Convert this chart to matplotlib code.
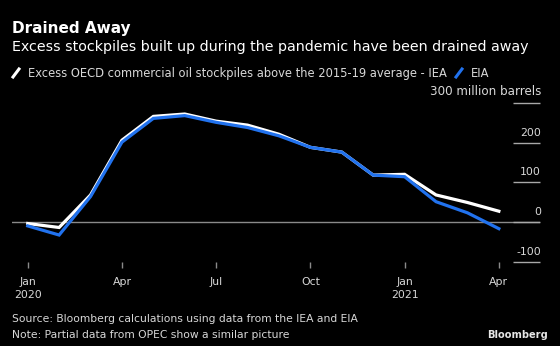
import matplotlib
matplotlib.use("Agg")
import matplotlib.pyplot as plt
from matplotlib.lines import Line2D
from matplotlib.transforms import blended_transform_factory, offset_copy

# excess OECD commercial oil stocks vs 2015-19 average, million barrels
months = ["Jan 2020", "Feb 2020", "Mar 2020", "Apr 2020", "May 2020", "Jun 2020",
          "Jul 2020", "Aug 2020", "Sep 2020", "Oct 2020", "Nov 2020", "Dec 2020",
          "Jan 2021", "Feb 2021", "Mar 2021", "Apr 2021"]
iea = [-4, -14, 68, 206, 266, 272, 254, 244, 221, 188, 176, 118, 120, 68, 49, 27]
eia = [-10, -33, 64, 201, 261, 268, 251, 238, 217, 188, 176, 118, 114, 51, 23, -17]

xtick_pos = [0, 3, 6, 9, 12, 15]
xtick_labels = ["Jan\n2020", "Apr", "Jul", "Oct", "Jan\n2021", "Apr"]
ytick_vals = [-100, 0, 100, 200, 300]
ytick_labels = ["-100", "0", "100", "200", "300 million barrels"]

BG = "#000000"
WHITE = "#ffffff"
BLUE = "#2172ee"
GREY = "#8a8a8a"
TXT = "#d8d8d8"

plt.rcParams["font.family"] = ["DejaVu Sans"]

fig = plt.figure(figsize=(5.6, 3.46), dpi=100, facecolor=BG)
ax = fig.add_axes([12 / 560, 84 / 346, 528 / 560, 0.4598])
ax.set_facecolor(BG)


def fy(py):
    # pixel row from the top -> figure fraction
    return 1 - py / 346


x = list(range(len(months)))
ax.axhline(0, color=GREY, lw=1.0, zorder=1)
ax.plot(x, iea, color=WHITE, lw=2.3, solid_joinstyle="miter", zorder=3)
ax.plot(x, eia, color=BLUE, lw=2.3, solid_joinstyle="miter", zorder=4)

ax.set_xlim(-0.5, 16.31)
ax.set_ylim(-101, 300)
for s in ax.spines.values():
    s.set_visible(False)

ax.set_xticks(xtick_pos)
ax.set_xticklabels(xtick_labels, color=TXT, fontsize=7.8, linespacing=1.45)
ax.tick_params(axis="x", length=4, width=1, color=GREY, pad=6.5, direction="out")

ax.yaxis.tick_right()
ax.set_yticks(ytick_vals)
ax.set_yticklabels([])
ax.tick_params(axis="y", direction="in", length=19.5, width=1, color="#a8a8a8")
tr = offset_copy(blended_transform_factory(ax.transAxes, ax.transData),
                 fig=fig, x=1, y=5, units="dots")
for v, lab in zip(ytick_vals, ytick_labels):
    ax.text(1.0, v, lab, transform=tr, ha="right", va="bottom",
            color=TXT, fontsize=8.6 if v == 300 else 7.8)

# header
fig.text(12 / 560, fy(32.7), "Drained Away", color=WHITE, fontsize=11,
         fontweight="bold", va="baseline")
fig.text(12 / 560, fy(50.7), "Excess stockpiles built up during the pandemic have been drained away",
         color=WHITE, fontsize=10.25, va="baseline")

# legend keys
def slash(x0, color):
    fig.add_artist(Line2D([x0 / 560, (x0 + 6) / 560], [fy(77), fy(69)],
                          color=color, lw=2.2, transform=fig.transFigure))

slash(13, WHITE)
fig.text(28.5 / 560, fy(76.7),
         "Excess OECD commercial oil stockpiles above the 2015-19 average - IEA",
         color=TXT, fontsize=8.3, va="baseline")
slash(456, BLUE)
fig.text(471 / 560, fy(76.7), "EIA", color=TXT, fontsize=8.3, va="baseline")

# footer
fig.text(12 / 560, fy(322),
         "Source: Bloomberg calculations using data from the IEA and EIA",
         color=TXT, fontsize=7.75, va="baseline")
fig.text(12 / 560, fy(337.5), "Note: Partial data from OPEC show a similar picture",
         color=TXT, fontsize=7.75, va="baseline")
fig.text(548 / 560, fy(337.7), "Bloomberg", color="#e6e6e6", fontsize=7.1,
         fontweight="bold", ha="right", va="baseline")

fig.savefig("out.png", dpi=100, facecolor=BG)
